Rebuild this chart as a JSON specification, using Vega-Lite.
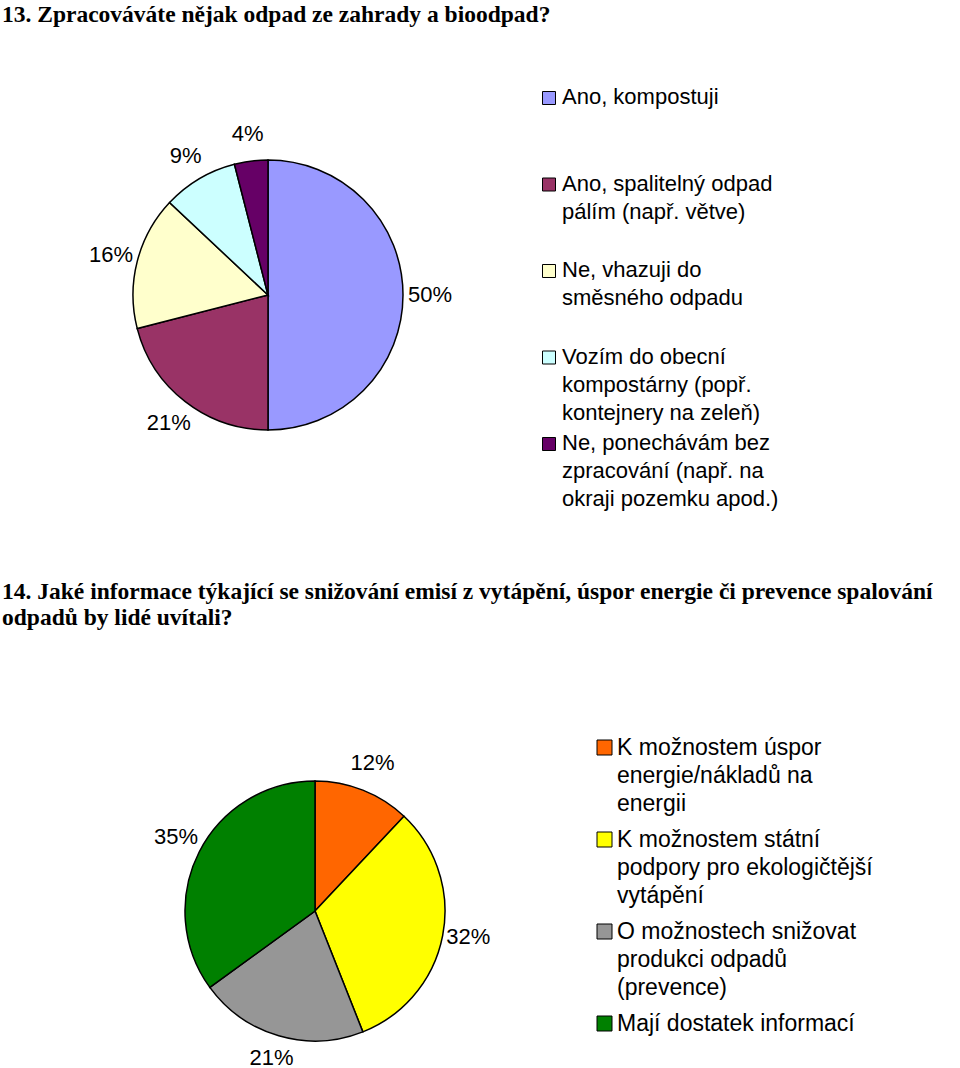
{
  "$schema": "https://vega.github.io/schema/vega-lite/v6.json",
  "background": "white",
  "padding": {"left": 2, "top": 3, "right": 0, "bottom": 0},
  "autosize": {"type": "pad"},
  "datasets": {
    "q13": [
      {"i": 1, "odpoved13": "Ano, kompostuji", "podil13": 0.50},
      {"i": 2, "odpoved13": "Ano, spalitelný odpad\npálím (např. větve)", "podil13": 0.21},
      {"i": 3, "odpoved13": "Ne, vhazuji do\nsměsného odpadu", "podil13": 0.16},
      {"i": 4, "odpoved13": "Vozím do obecní\nkompostárny (popř.\nkontejnery na zeleň)", "podil13": 0.09},
      {"i": 5, "odpoved13": "Ne, ponechávám bez\nzpracování (např. na\nokraji pozemku apod.)", "podil13": 0.04}
    ],
    "q14": [
      {"i": 1, "odpoved14": "K možnostem úspor\nenergie/nákladů na\nenergii", "podil14": 0.12},
      {"i": 2, "odpoved14": "K možnostem státní\npodpory pro ekologičtější\nvytápění", "podil14": 0.32},
      {"i": 3, "odpoved14": "O možnostech snižovat\nprodukci odpadů\n(prevence)", "podil14": 0.21},
      {"i": 4, "odpoved14": "Mají dostatek informací", "podil14": 0.35}
    ]
  },
  "spacing": 35,
  "vconcat": [
    {
      "title": {"text": "13. Zpracováváte nějak odpad ze zahrady a bioodpad?", "anchor": "start", "frame": "group", "font": "Liberation Serif", "fontSize": 23.5, "fontWeight": "bold", "color": "black", "offset": 18.5},
      "width": 532,
      "height": 500,
      "data": {"name": "q13"},
      "encoding": {
        "theta": {"field": "podil13", "type": "quantitative", "stack": true},
        "order": {"field": "i", "type": "quantitative"}
      },
      "layer": [
        {
          "mark": {"type": "arc", "radius": 135, "stroke": "black", "strokeWidth": 1.5},
          "encoding": {
            "color": {
              "field": "odpoved13", "type": "nominal",
              "sort": {"field": "i", "op": "min"},
              "scale": {"range": ["#9999FF", "#993366", "#FFFFCC", "#CCFFFF", "#660066"]},
              "legend": {"title": null, "orient": "none", "legendX": 536, "legendY": 42, "padding": 0,
                "symbolType": "square", "symbolSize": 169, "symbolStrokeColor": "black", "symbolStrokeWidth": 1,
                "labelFont": "Liberation Sans", "labelFontSize": 22, "labelColor": "black", "labelLimit": 400,
                "labelOffset": 2, "labelBaseline": "top", "labelExpr": "split(datum.label, '\\n')",
                "gridAlign": "all", "rowPadding": 8.5}
            }
          }
        },
        {
          "mark": {"type": "text", "radius": 162, "font": "Liberation Sans", "fontSize": 22, "color": "black"},
          "encoding": {"text": {"field": "podil13", "type": "quantitative", "format": ".0%"}}
        }
      ]
    },
    {
      "title": {"text": ["14. Jaké informace týkající se snižování emisí z vytápění, úspor energie či prevence spalování", "odpadů by lidé uvítali?"], "anchor": "start", "frame": "group", "font": "Liberation Serif", "fontSize": 23.5, "lineHeight": 26, "fontWeight": "bold", "color": "black", "offset": 106.5},
      "width": 626,
      "height": 290,
      "data": {"name": "q14"},
      "encoding": {
        "theta": {"field": "podil14", "type": "quantitative", "stack": true},
        "order": {"field": "i", "type": "quantitative"}
      },
      "layer": [
        {
          "mark": {"type": "arc", "radius": 130, "stroke": "black", "strokeWidth": 1.5},
          "encoding": {
            "color": {
              "field": "odpoved14", "type": "nominal",
              "sort": {"field": "i", "op": "min"},
              "scale": {"range": ["#FF6600", "#FFFF00", "#969696", "#008000"]},
              "legend": {"title": null, "orient": "none", "legendX": 591, "legendY": -30, "padding": 0,
                "symbolType": "square", "symbolSize": 225, "symbolStrokeColor": "black", "symbolStrokeWidth": 1,
                "labelFont": "Liberation Sans", "labelFontSize": 23, "labelColor": "black", "labelLimit": 400,
                "labelOffset": 1, "labelBaseline": "top", "labelExpr": "split(datum.label, '\\n')",
                "gridAlign": "all", "rowPadding": 12}
            }
          }
        },
        {
          "mark": {"type": "text", "radius": 156, "dy": -3, "font": "Liberation Sans", "fontSize": 22, "color": "black"},
          "encoding": {"text": {"field": "podil14", "type": "quantitative", "format": ".0%"}}
        }
      ]
    }
  ],
  "resolve": {"scale": {"color": "independent", "theta": "independent"}, "legend": {"color": "independent"}},
  "config": {
    "view": {"stroke": null},
    "style": {"guide-label": {"lineHeight": 28, "dy": -11}}
  }
}
